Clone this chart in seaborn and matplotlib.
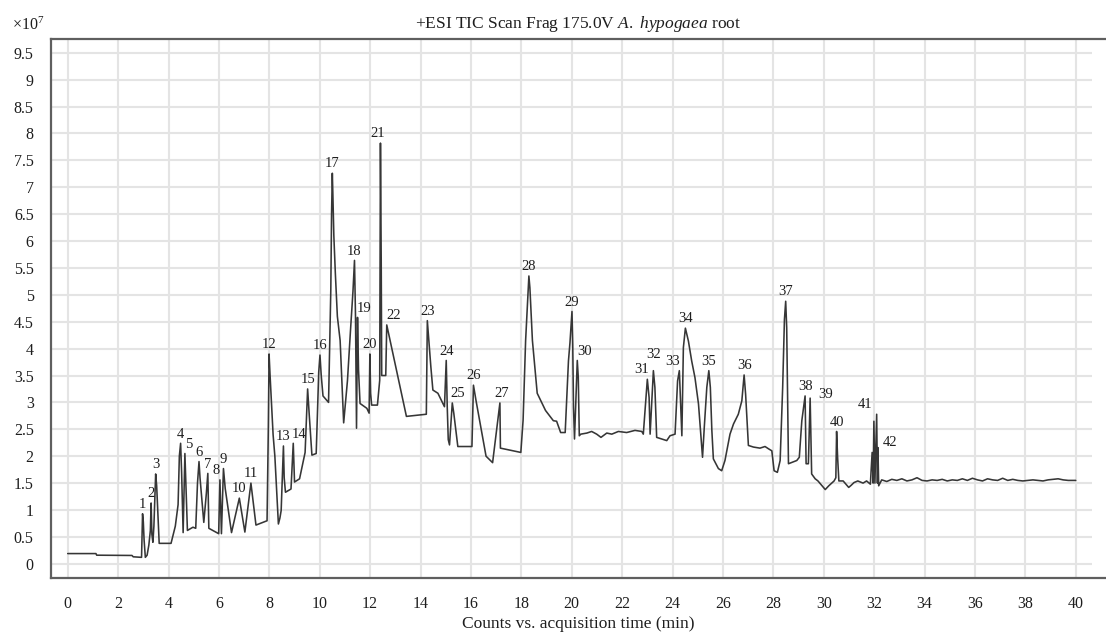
import matplotlib
matplotlib.use("Agg")
import matplotlib.pyplot as plt
import numpy as np
import pandas as pd
import seaborn as sns

# Total ion chromatogram: retention time (min) and intensity (x10^7 counts)
time_min = [
    0.00, 1.12, 1.15, 2.55, 2.60, 2.93,
    2.97, 3.00, 3.03, 3.08, 3.15, 3.22,
    3.28, 3.31, 3.34, 3.38, 3.42,
    3.49, 3.53, 3.58, 3.63, 4.10, 4.27, 4.38, 4.43,
    4.48, 4.52, 4.58,
    4.65, 4.69, 4.75, 4.97, 5.08, 5.15,
    5.21, 5.25, 5.40, 5.50,
    5.56, 5.60, 5.99,
    6.04, 6.10,
    6.18, 6.25, 6.50,
    6.81, 7.03,
    7.27, 7.47, 7.91, 7.96,
    7.99, 8.03, 8.15, 8.22, 8.36, 8.42, 8.47,
    8.56, 8.59, 8.64, 8.86,
    8.95, 9.00, 9.20, 9.42,
    9.52, 9.58, 9.69, 9.86, 9.96,
    10.01, 10.06, 10.13, 10.35, 10.40, 10.44, 10.47,
    10.50, 10.52, 10.56, 10.62, 10.70, 10.81, 10.95, 11.10, 11.22, 11.32,
    11.38, 11.42, 11.46,
    11.50, 11.54, 11.60, 11.87, 11.96,
    11.99, 12.02, 12.06, 12.29, 12.38,
    12.41, 12.44, 12.46, 12.62,
    12.66, 13.44, 14.23,
    14.27, 14.33, 14.41, 14.49, 14.69, 14.95,
    15.02, 15.06, 15.10, 15.15,
    15.26, 15.32, 15.48, 16.04,
    16.10, 16.20, 16.60, 16.86,
    17.15, 17.17, 17.98, 18.07, 18.17, 18.27,
    18.30, 18.34, 18.44, 18.63, 18.96, 19.27, 19.40, 19.56, 19.74, 19.87, 19.93,
    20.01, 20.04, 20.07, 20.11,
    20.22, 20.26, 20.30, 20.36, 20.60, 20.79, 20.99, 21.16, 21.39, 21.59, 21.85,
    22.18, 22.51, 22.78, 22.84,
    23.00, 23.07, 23.11,
    23.24, 23.30, 23.37, 23.57, 23.77, 23.90, 24.10, 24.20,
    24.27, 24.37, 24.43,
    24.51, 24.63, 24.76, 24.89, 25.03, 25.12, 25.19, 25.26, 25.36,
    25.44, 25.50, 25.56, 25.62, 25.82, 25.95, 26.08, 26.28, 26.42, 26.61, 26.75,
    26.84, 26.90, 27.01, 27.21, 27.47, 27.67, 27.80, 27.94, 28.03, 28.16, 28.27,
    28.37, 28.44,
    28.49, 28.53, 28.60, 28.93, 29.03, 29.13,
    29.26, 29.30, 29.39,
    29.46, 29.49, 29.52, 29.66, 29.77, 29.99, 30.06, 30.20, 30.41, 30.48,
    30.51, 30.55, 30.60, 30.77, 30.99, 31.09, 31.20, 31.35, 31.56, 31.70,
    31.85, 31.92, 31.96,
    31.99, 32.03, 32.10, 32.13, 32.15, 32.18,
    32.30, 32.50, 32.70, 32.90, 33.10, 33.30, 33.50, 33.70, 33.90, 34.10,
    34.30, 34.50, 34.70, 34.90, 35.10, 35.30, 35.50, 35.70, 35.90, 36.10,
    36.30, 36.50, 36.70, 36.90, 37.10, 37.30, 37.50, 37.70, 37.90, 38.10,
    38.30, 38.50, 38.70, 38.90, 39.10, 39.30, 39.50, 39.70, 39.90, 40.00,
]
intensity = [
    0.19, 0.19, 0.16, 0.155, 0.13, 0.12,
    0.93, 0.78, 0.45, 0.12, 0.16, 0.35,
    0.62, 1.13, 0.55, 0.40, 0.70,
    1.67, 1.45, 0.90, 0.38, 0.38, 0.70, 1.10, 2.00,
    2.24, 1.70, 0.58,
    2.05, 1.50, 0.62, 0.68, 0.66, 1.50,
    1.90, 1.60, 0.77, 1.30,
    1.68, 0.66, 0.56,
    1.56, 0.56,
    1.77, 1.40, 0.58,
    1.22, 0.59,
    1.50, 0.72, 0.80, 2.50,
    3.90, 3.50, 2.40, 2.00, 0.74, 0.85, 0.99,
    2.19, 1.60, 1.33, 1.39,
    2.24, 1.52, 1.58, 2.07,
    3.25, 2.80, 2.02, 2.05, 3.56,
    3.88, 3.50, 3.12, 3.00, 4.20, 5.10, 6.50,
    7.26, 6.90, 6.10, 5.40, 4.60, 4.15, 2.62, 3.40, 4.33, 5.07,
    5.64, 4.60, 2.52,
    4.58, 3.60, 2.98, 2.89, 2.80,
    3.90, 3.17, 2.95, 2.95, 3.41,
    7.82, 5.65, 3.50, 3.50,
    4.44, 2.74, 2.78,
    4.52, 4.15, 3.66, 3.23, 3.17, 2.92,
    3.78, 2.92, 2.31, 2.21,
    2.99, 2.80, 2.18, 2.18,
    3.32, 3.04, 2.00, 1.88,
    2.99, 2.15, 2.07, 2.67, 4.15, 5.10,
    5.35, 5.13, 4.15, 3.17, 2.85, 2.66, 2.65, 2.44, 2.44, 3.77, 4.11,
    4.69, 4.08, 2.91, 2.32,
    3.78, 3.46, 2.38, 2.41, 2.43, 2.46, 2.41, 2.35, 2.43, 2.41, 2.46,
    2.44, 2.48, 2.46, 2.41,
    3.43, 3.09, 2.41,
    3.59, 3.28, 2.35, 2.32, 2.29, 2.38, 2.41, 3.40,
    3.59, 2.38, 4.02,
    4.38, 4.14, 3.77, 3.46, 2.97, 2.41, 1.98, 2.54, 3.28,
    3.59, 3.28, 2.48, 1.95, 1.77, 1.73, 1.92, 2.41, 2.60, 2.78, 3.03,
    3.51, 3.15, 2.20, 2.17, 2.15, 2.18, 2.14, 2.10, 1.73, 1.70, 1.92,
    3.28, 4.54,
    4.88, 4.39, 1.86, 1.92, 1.98, 2.66,
    3.12, 1.86, 1.86,
    3.08, 2.41, 1.67, 1.58, 1.54, 1.42, 1.38, 1.45, 1.54, 1.60,
    2.46, 1.98, 1.54, 1.54, 1.42, 1.46, 1.51, 1.54, 1.50, 1.54,
    1.48, 2.07, 1.50,
    2.65, 1.50, 2.78, 1.50, 2.16, 1.45,
    1.56, 1.53, 1.57, 1.55, 1.58, 1.54, 1.56, 1.60, 1.55, 1.54,
    1.56, 1.55, 1.57, 1.54, 1.56, 1.55, 1.58, 1.55, 1.59, 1.56,
    1.54, 1.58, 1.56, 1.55, 1.59, 1.55, 1.57, 1.55, 1.54, 1.55,
    1.56, 1.55, 1.54, 1.56, 1.57, 1.58, 1.56, 1.55, 1.55, 1.55,
]

# Numbered compounds: apex retention time and apex intensity
peak_ids = list(range(1, 43))
peak_time = [2.97, 3.31, 3.49, 4.48, 4.65, 5.21, 5.56, 6.04, 6.18, 6.81,
             7.27, 7.99, 8.56, 8.95, 9.52, 10.01, 10.50, 11.38, 11.50, 11.99,
             12.41, 12.66, 14.27, 15.02, 15.26, 16.10, 17.15, 18.30, 20.01, 20.22,
             23.00, 23.24, 24.27, 24.51, 25.44, 26.84, 28.49, 29.26, 29.46, 30.51,
             32.10, 32.15]
peak_height = [0.93, 1.13, 1.67, 2.24, 2.05, 1.90, 1.68, 1.56, 1.77, 1.22,
               1.50, 3.90, 2.19, 2.24, 3.25, 3.88, 7.26, 5.64, 4.58, 3.90,
               7.82, 4.44, 4.52, 3.78, 2.99, 3.32, 2.99, 5.35, 4.69, 3.78,
               3.43, 3.59, 3.59, 4.38, 3.59, 3.51, 4.88, 3.12, 3.08, 2.46,
               2.78, 2.16]

x_ticks = list(range(0, 41, 2))
y_ticks = [0, 0.5, 1, 1.5, 2, 2.5, 3, 3.5, 4, 4.5, 5, 5.5, 6, 6.5, 7, 7.5, 8, 8.5, 9, 9.5]

# Label nudges (points) where neighbouring numbers would collide
label_dx = {5: 3, 8: -3, 14: 4, 19: 5, 21: -2, 22: 5, 25: 4, 27: 1,
            30: 5, 31: -4, 33: -5, 39: 11, 41: -8, 42: 9}
label_dy = {32: 5, 39: -4, 42: -3}

sns.set_style("white")
plt.rcParams["font.family"] = ["Liberation Serif", "DejaVu Serif"]
plt.rcParams["mathtext.fontset"] = "custom"
plt.rcParams["mathtext.rm"] = "Liberation Serif"
plt.rcParams["mathtext.it"] = "Liberation Serif:italic"

TXT = "#1e1e1e"
AXC = "#5f5f5f"
GRID = "#e4e4e4"

fig = plt.figure(figsize=(11.06, 6.40), dpi=100)
ax = fig.add_axes([51 / 1106, 1 - 578 / 640, 1 - 51 / 1106, (578 - 39) / 640])

xmin, xmax = -0.663, 41.2
ymin, ymax = -0.264, 9.755

# grid: vertical lines at each labelled time, horizontal lines stop short of the right edge
for xt in x_ticks:
    ax.axvline(xt, color=GRID, lw=1.5, zorder=0)
ax.hlines(y_ticks, xmin, 40.65, color=GRID, lw=1.5, zorder=0)

df = pd.DataFrame({"time": time_min, "counts": intensity})
sns.lineplot(data=df, x="time", y="counts", ax=ax, sort=False, estimator=None,
             color="#363636", lw=1.15, zorder=3)

for pid, t, h in zip(peak_ids, peak_time, peak_height):
    ax.annotate(str(pid), xy=(t, h),
                xytext=(label_dx.get(pid, 0), 2 + label_dy.get(pid, 0)),
                textcoords="offset points", ha="center", va="bottom",
                fontsize=10.5, color=TXT, zorder=4)

ax.set_xlim(xmin, xmax)
ax.set_ylim(ymin, ymax)
ax.set_xticks(x_ticks)
ax.set_xticklabels([str(v) for v in x_ticks])
ax.set_yticks(y_ticks)
ax.set_yticklabels([f"{v:g}" for v in y_ticks])
ax.tick_params(axis="both", direction="out", length=7, width=1.1, color=AXC,
               labelsize=11.5, labelcolor=TXT)
ax.tick_params(axis="y", pad=5.5)
ax.tick_params(axis="x", pad=6)

for side in ("left", "top", "bottom"):
    ax.spines[side].set_visible(True)
    ax.spines[side].set_color(AXC)
    ax.spines[side].set_linewidth(1.6)
ax.spines["right"].set_visible(False)

ax.set_xlabel("Counts vs. acquisition time (min)", fontsize=12.5, color=TXT, labelpad=3)
ax.set_ylabel("")
ax.set_title(r"+ESI TIC Scan Frag 175.0V $\mathit{A.\ hypogaea}$ root",
             fontsize=12.5, color=TXT, pad=8)
fig.text(12 / 1106, 1 - 30 / 640, r"$\times$10$^{7}$", fontsize=11.5, color=TXT,
         ha="left", va="baseline")

fig.savefig("out.png", dpi=100)
